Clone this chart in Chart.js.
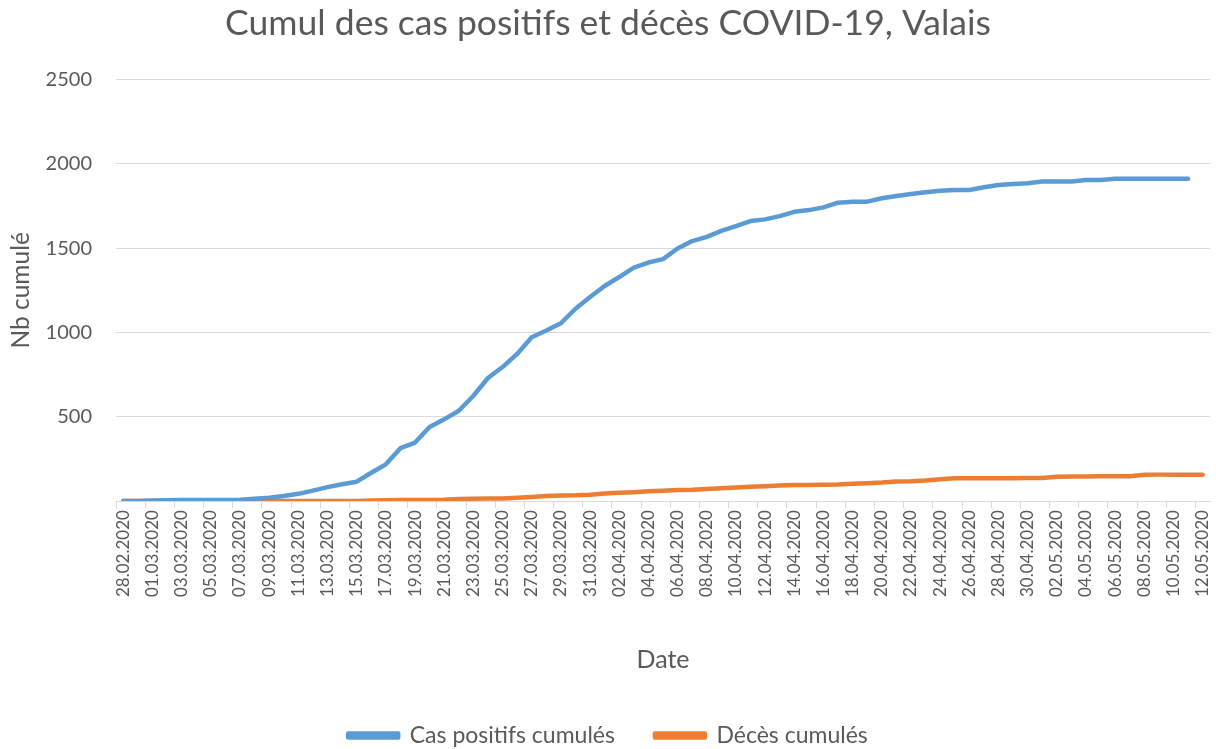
<!DOCTYPE html>
<html>
<head>
<meta charset="utf-8">
<script src="https://cdn.jsdelivr.net/npm/chart.js@4/dist/chart.umd.min.js"></script>
<style>
  html, body { margin: 0; padding: 0; background: #fff; }
  #wrap { width: 1216px; height: 749px; }
</style>
</head>
<body>
<div id="wrap"><canvas id="covidChart"></canvas></div>
<script>
// ---------------------------- data ----------------------------
const dates = [
  '28.02.2020', '29.02.2020',
  '01.03.2020', '02.03.2020', '03.03.2020', '04.03.2020', '05.03.2020', '06.03.2020', '07.03.2020',
  '08.03.2020', '09.03.2020', '10.03.2020', '11.03.2020', '12.03.2020', '13.03.2020', '14.03.2020',
  '15.03.2020', '16.03.2020', '17.03.2020', '18.03.2020', '19.03.2020', '20.03.2020', '21.03.2020',
  '22.03.2020', '23.03.2020', '24.03.2020', '25.03.2020', '26.03.2020', '27.03.2020', '28.03.2020',
  '29.03.2020', '30.03.2020', '31.03.2020',
  '01.04.2020', '02.04.2020', '03.04.2020', '04.04.2020', '05.04.2020', '06.04.2020', '07.04.2020',
  '08.04.2020', '09.04.2020', '10.04.2020', '11.04.2020', '12.04.2020', '13.04.2020', '14.04.2020',
  '15.04.2020', '16.04.2020', '17.04.2020', '18.04.2020', '19.04.2020', '20.04.2020', '21.04.2020',
  '22.04.2020', '23.04.2020', '24.04.2020', '25.04.2020', '26.04.2020', '27.04.2020', '28.04.2020',
  '29.04.2020', '30.04.2020',
  '01.05.2020', '02.05.2020', '03.05.2020', '04.05.2020', '05.05.2020', '06.05.2020', '07.05.2020',
  '08.05.2020', '09.05.2020', '10.05.2020', '11.05.2020', '12.05.2020'
];

const casPositifs = [
  1, 1, 3, 5, 6, 6, 6, 7, 8, 14,
  20, 30, 43, 62, 83, 100, 115, 168, 218, 314,
  347, 440, 485, 536, 625, 730, 795, 873, 972, 1012,
  1055, 1141, 1210, 1276, 1329, 1385, 1415, 1435, 1498, 1542,
  1567, 1603, 1631, 1661, 1671, 1690, 1716, 1726, 1742, 1770,
  1776, 1776, 1796, 1810, 1821, 1832, 1841, 1845, 1845, 1861,
  1875, 1881, 1885, 1895, 1895, 1895, 1905, 1905, 1912, 1912,
  1912, 1912, 1912, 1912, null
];

const deces = [
  0, 0, 0, 0, 0, 0, 0, 0, 0, 0,
  0, 0, 0, 0, 0, 0, 1, 3, 5, 6,
  6, 7, 8, 12, 14, 15, 16, 20, 25, 30,
  33, 34, 38, 45, 49, 53, 58, 62, 66, 68,
  72, 76, 80, 85, 88, 92, 95, 96, 97, 99,
  103, 106, 110, 116, 118, 122, 130, 135, 135, 135,
  135, 136, 137, 137, 145, 146, 146, 147, 148, 148,
  156, 157, 157, 157, 157
];

const yTicks = [0, 500, 1000, 1500, 2000, 2500];

// ---------------------------- style ----------------------------
const textGrey = '#595959';
const gridGrey = '#d9d9d9';
const fontName = 'Lato, "Open Sans", sans-serif';

const data = {
  labels: dates,
  datasets: [{
    label: 'Cas positifs cumulés',
    data: casPositifs,
    borderColor: '#5b9bd5',
    backgroundColor: '#5b9bd5',
    borderWidth: 4.5,
    borderJoinStyle: 'round',
    borderCapStyle: 'round',
    pointRadius: 0,
    tension: 0
  }, {
    label: 'Décès cumulés',
    data: deces,
    borderColor: '#ed7d31',
    backgroundColor: '#ed7d31',
    borderWidth: 4.5,
    borderJoinStyle: 'round',
    borderCapStyle: 'round',
    pointRadius: 0,
    tension: 0
  }]
};

const config = {
  type: 'line',
  data: data,
  options: {
    responsive: true,
    maintainAspectRatio: false,
    animation: false,
    // legend items sit near the bottom of their box, so let the box run past the canvas a bit
    layout: { padding: { left: 6, right: 6, top: 2, bottom: -8 } },
    plugins: {
      title: {
        display: true,
        text: 'Cumul des cas positifs et décès COVID-19, Valais',
        color: textGrey,
        font: { family: fontName, size: 35.5, weight: 'normal' },
        padding: { top: 0, bottom: 35 }
      },
      legend: {
        position: 'bottom',
        labels: {
          color: textGrey,
          font: { family: fontName, size: 23 },
          boxWidth: 50,
          boxHeight: 4,
          padding: 40
        }
      },
      tooltip: { enabled: false }
    },
    scales: {
      x: {
        offset: true,
        border: { display: true, color: gridGrey, width: 1 },
        grid: {
          offset: true,
          drawOnChartArea: false,
          drawTicks: true,
          tickLength: 7,
          tickColor: (ctx) => (ctx.index % 2 === 0 ? gridGrey : 'rgba(0,0,0,0)')
        },
        afterFit: (scale) => { scale.paddingLeft = 0; scale.paddingRight = 0; },
        ticks: {
          autoSkip: false,
          maxRotation: 90,
          minRotation: 90,
          padding: 2,
          color: textGrey,
          font: { family: fontName, size: 17 },
          callback: function (value, index) {
            return index % 2 === 0 ? this.getLabelForValue(value) : '';
          }
        },
        title: {
          display: true,
          text: 'Date',
          color: textGrey,
          font: { family: fontName, size: 25 },
          padding: { top: 46, bottom: 9 }
        }
      },
      y: {
        min: yTicks[0],
        max: yTicks[yTicks.length - 1],
        border: { display: false },
        grid: { color: gridGrey, drawTicks: false, lineWidth: 1 },
        afterFit: (scale) => { scale.width = 110; },
        ticks: {
          stepSize: 500,
          padding: 24,
          color: textGrey,
          font: { family: fontName, size: 20 },
          callback: (value) => (value === 0 ? '' : value)
        },
        title: {
          display: true,
          text: 'Nb cumulé',
          color: textGrey,
          font: { family: fontName, size: 24.5 },
          padding: { top: 0, bottom: 10 }
        }
      }
    }
  }
};

const covidChart = new Chart(document.getElementById('covidChart'), config);
</script>
</body>
</html>
